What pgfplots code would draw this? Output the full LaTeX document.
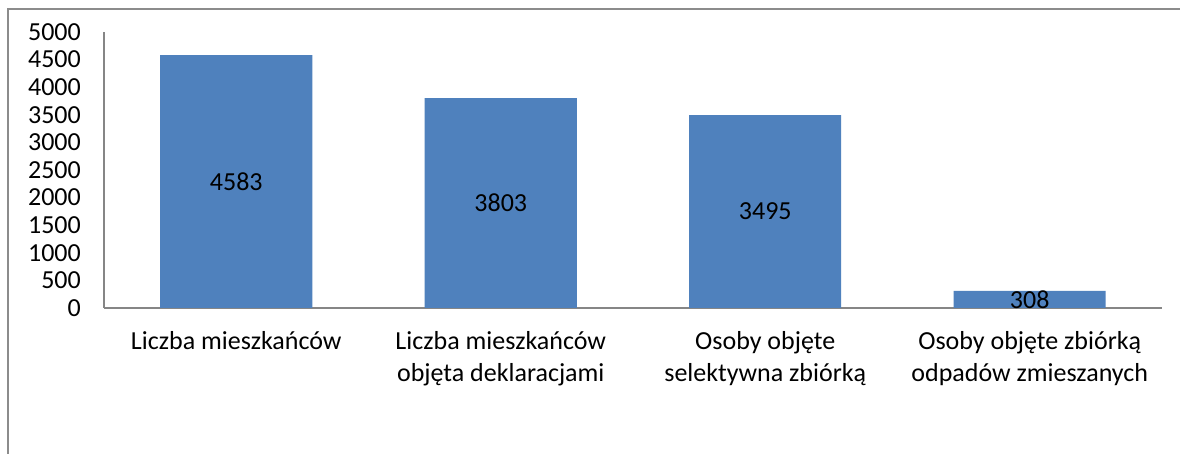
\documentclass[border=0pt]{standalone}
\usepackage{fontspec}
\setmainfont{Carlito}
\usepackage{pgfplots}
\pgfplotsset{compat=1.18}
\definecolor{barblue}{HTML}{4F81BD}
\definecolor{axisgray}{HTML}{868686}
\definecolor{framegray}{HTML}{8C8C8C}
\begin{document}
\begin{tikzpicture}[x=1pt,y=1pt]
\useasboundingbox (0,0) rectangle (1180,454);
\clip (0,0) rectangle (1180,454);
\fill[white] (0,0) rectangle (1180,454);
\draw[framegray, line width=1.6pt] (8,-5) -- (8,445) -- (1190,445);
\begin{axis}[
  at={(104pt,146pt)}, anchor=south west,
  scale only axis, width=1058pt, height=276pt,
  xmin=-0.5, xmax=3.5, ymin=0, ymax=5000,
  axis x line*=bottom, axis y line*=left,
  axis line style={draw=axisgray, line width=1.5pt},
  major tick length=0pt,
  ytick={0,500,...,5000},
  xtick={0,1,2,3},
  xticklabels={{Liczba mieszkańców},{Liczba mieszkańców\\objęta deklaracjami},{Osoby objęte\\selektywna zbiórką},{Osoby objęte zbiórką\\odpadów zmieszanych}},
  /pgf/number format/assume math mode=true,
  /pgf/number format/1000 sep={},
  yticklabel style={font=\fontsize{26}{31}\selectfont, anchor=east, inner sep=0pt, xshift=-23pt},
  xticklabel style={font=\fontsize{26}{32}\selectfont, align=center, anchor=north, inner sep=0pt, yshift=-23pt},
  ]
  \addplot[ybar, bar width=152pt, fill=barblue, draw=none,
    nodes near coords,
    visualization depends on=y \as \rawy,
    every node near coord/.append style={font=\fontsize{26}{31}\selectfont, anchor=center, black, shift={(axis direction cs:0,-\rawy/2)}},
  ] coordinates {(0,4583) (1,3803) (2,3495) (3,308)};
\end{axis}
\end{tikzpicture}
\end{document}
